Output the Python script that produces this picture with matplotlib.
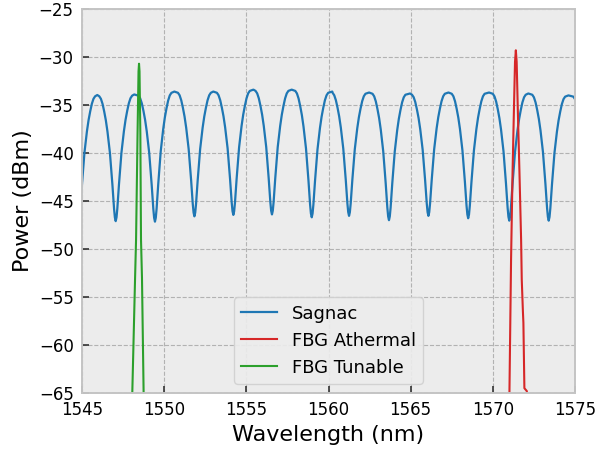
import numpy as np
import matplotlib
matplotlib.use("Agg")
import matplotlib.pyplot as plt

# Sagnac comb: notch and peak positions/levels
notch_wl = [1544.8, 1547.05, 1549.44, 1551.84, 1554.21, 1556.56, 1558.98,
            1561.25, 1563.68, 1566.08, 1568.50, 1571.0, 1573.4, 1575.9]
notch_db = [-47.0, -47.1, -47.15, -46.6, -46.45, -46.4, -46.7,
            -46.55, -47.0, -46.55, -46.8, -47.05, -47.05, -47.0]
peak_wl = [1545.93, 1548.18, 1550.62, 1552.99, 1555.43, 1557.76, 1560.23,
           1562.47, 1564.96, 1567.30, 1569.77, 1572.16, 1574.6]
peak_db = [-33.96, -33.9, -33.6, -33.6, -33.4, -33.4, -33.6,
           -33.7, -33.8, -33.7, -33.7, -33.8, -34.0]
# flank shape read from one notch: offset from notch (nm), fraction of notch->peak rise
flank_offset = [0.05, 0.1, 0.2, 0.35, 0.5, 0.6, 0.7, 0.8, 0.9, 1.0]
flank_frac = [0.03, 0.10, 0.29, 0.54, 0.71, 0.80, 0.87, 0.93, 0.97, 0.99]

# FBG reflections
ath_wl = [1570.9, 1571.01, 1571.11, 1571.2, 1571.29, 1571.35, 1571.40, 1571.45,
          1571.52, 1571.62, 1571.72, 1571.76, 1571.83, 1571.86, 1571.92, 1572.07, 1572.1]
ath_db = [-72, -65, -51, -42, -35, -30.5, -29.3, -30.5,
          -35.5, -42, -49, -53.2, -56.5, -57.7, -64.5, -64.8, -72]
tun_wl = [1547.95, 1548.06, 1548.23, 1548.29, 1548.38, 1548.44, 1548.47, 1548.5,
          1548.55, 1548.59, 1548.65, 1548.75, 1548.85]
tun_db = [-72, -65, -53, -49, -38, -31.5, -30.7, -31.5,
          -38, -49, -53, -65, -72]

sag_x, sag_y = [], []
for i, (nx, ny) in enumerate(zip(notch_wl, notch_db)):
    sag_x.append(nx)
    sag_y.append(ny)
    for u, f in zip(flank_offset, flank_frac):
        if i > 0 and nx - u > peak_wl[i - 1]:
            top = peak_db[i - 1]
            sag_x.append(nx - u)
            sag_y.append(ny + f * (top - ny))
        if i < len(peak_db) and nx + u < peak_wl[i]:
            top = peak_db[i]
            sag_x.append(nx + u)
            sag_y.append(ny + f * (top - ny))
sag_x += peak_wl
sag_y += peak_db
order = np.argsort(sag_x)
sag_x = np.array(sag_x)[order]
sag_y = np.array(sag_y)[order]

fig = plt.figure(figsize=(5.95, 4.49), dpi=100)
ax = fig.add_axes([82 / 595, 1 - 393 / 449, 493 / 595, 384 / 449])
ax.set_facecolor('#ececec')

ax.plot(sag_x, sag_y, color='#1f77b4', lw=1.6, label='Sagnac')
ax.plot(ath_wl, ath_db, color='#d62728', lw=1.5, label='FBG Athermal')
ax.plot(tun_wl, tun_db, color='#2ca02c', lw=1.5, label='FBG Tunable')

ax.set_xlim(1545, 1575)
ax.set_ylim(-65, -25)
ax.set_xticks(np.arange(1545, 1576, 5))
ax.set_yticks(np.arange(-65, -24, 5))
ax.grid(True, color='#b2b2b2', linestyle='--', linewidth=0.8)
ax.set_axisbelow(True)
for s in ax.spines.values():
    s.set_color('#c4c4c4')
    s.set_linewidth(1.4)
ax.tick_params(direction='in', length=5, width=1.2, color='#333333',
               labelsize=12, pad=6)

ax.set_xlabel('Wavelength (nm)', fontsize=16)
ax.set_ylabel('Power (dBm)', fontsize=16)

leg = ax.legend(loc='lower center', fontsize=13, fancybox=True,
                facecolor='#ececec', edgecolor='#d0d0d0', framealpha=0.9)

fig.savefig('out.png', dpi=100)
